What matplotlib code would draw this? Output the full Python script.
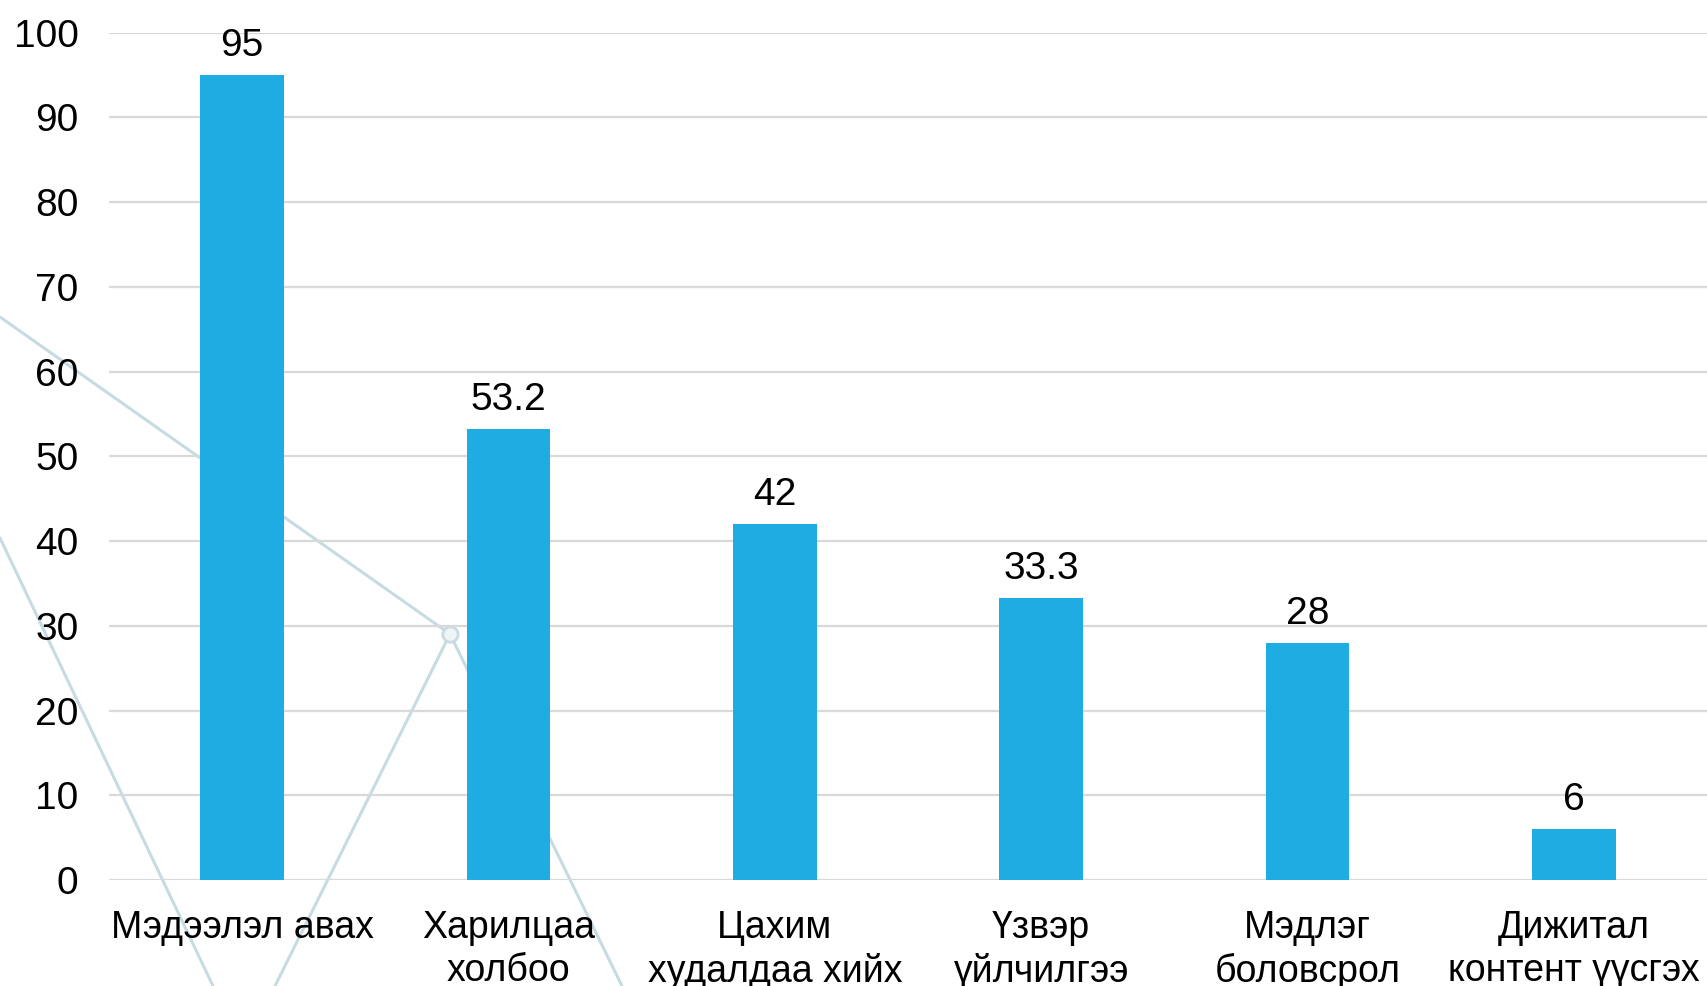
import matplotlib
matplotlib.use("Agg")
import matplotlib.pyplot as plt
from matplotlib.lines import Line2D

plt.rcParams['font.family'] = ['Liberation Sans', 'DejaVu Sans']

# --- data ---
categories = ['Мэдээлэл авах', 'Харилцаа\nхолбоо', 'Цахим\nхудалдаа хийх',
              'Үзвэр\nүйлчилгээ', 'Мэдлэг\nболовсрол', 'Дижитал\nконтент үүсгэх']
values = [95, 53.2, 42, 33.3, 28, 6]
value_labels = ['95', '53.2', '42', '33.3', '28', '6']
yticks = [0, 10, 20, 30, 40, 50, 60, 70, 80, 90, 100]

W, H = 1707, 986
fig = plt.figure(figsize=(W / 100, H / 100), dpi=100)
fig.patch.set_facecolor('white')

# faint network-style decoration behind the chart (pixel coords, origin top-left)
deco_col = '#c6dbe2'
node = (450, 634)
segments = [
    [(0, 317), node],
    [node, (622, 986)],
    [node, (275, 986)],
    [(0, 538), (213, 986)],
]
for seg in segments:
    xs = [p[0] / W for p in seg]
    ys = [1 - p[1] / H for p in seg]
    fig.add_artist(Line2D(xs, ys, transform=fig.transFigure, color=deco_col,
                          lw=2.2, zorder=0, solid_capstyle='round'))
fig.add_artist(Line2D([node[0] / W], [1 - node[1] / H], transform=fig.transFigure,
                      marker='o', markersize=11, markerfacecolor='#eef5f7',
                      markeredgecolor=deco_col, markeredgewidth=2, zorder=0))

ax = fig.add_axes([109 / W, 106 / H, 1 - 109 / W, (880 - 32.7) / H])
ax.set_facecolor('none')
ax.set_zorder(1)

x = list(range(len(categories)))
bars = ax.bar(x, values, width=0.314, color='#1FACE3', zorder=3)
for xi, v, lab in zip(x, values, value_labels):
    ax.annotate(lab, (xi, v), xytext=(0, 8), textcoords='offset points',
                ha='center', va='bottom', fontsize=28, color='black')

ax.set_xlim(-0.5, len(categories) - 0.5)
ax.set_ylim(0, 100)
ax.set_yticks(yticks)
ax.set_xticks(x)
ax.set_xticklabels(categories, fontsize=27, linespacing=1.25)
ax.tick_params(axis='y', length=0, pad=22, labelsize=28)
ax.tick_params(axis='x', length=0, pad=21.5)
ax.grid(axis='y', color='#d9d9d9', lw=1.6, zorder=0)
for s in ax.spines.values():
    s.set_visible(False)

fig.savefig('out.png', dpi=100)
